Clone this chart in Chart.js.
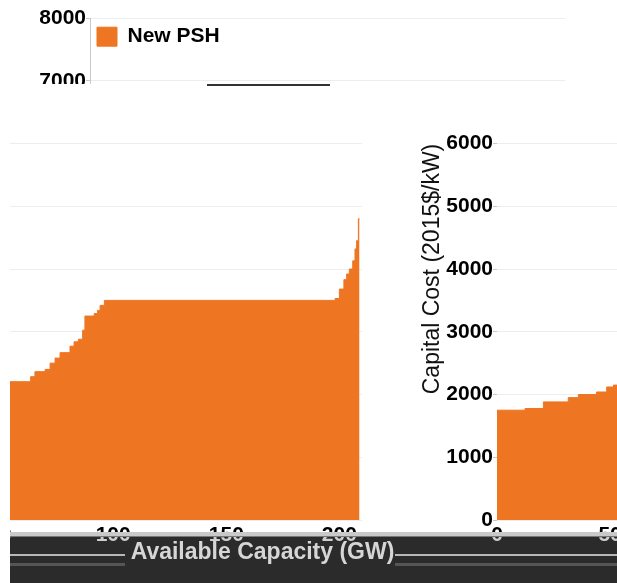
<!DOCTYPE html>
<html>
<head>
<meta charset="utf-8">
<script src="https://cdn.jsdelivr.net/npm/chart.js@4.4.0/dist/chart.umd.min.js"></script>
<style>
  body { margin: 0; width: 617px; height: 583px; overflow: hidden; position: relative; background: #fff; }
  .tile { position: absolute; overflow: hidden; }
  .tile canvas { position: absolute; }
  .band { position: absolute; left: 10px; top: 537px; width: 607px; height: 46px; background: #2b2b2b; }
  .bar { position: absolute; left: 10px; top: 532px; width: 607px; height: 5px; background: #c9c9c9; border-bottom: 1px solid #777; box-sizing: border-box; }
  .streak { position: absolute; }
</style>
</head>
<body>

<div class="band"></div>
<div class="streak" style="left:10px;top:554px;width:115px;height:2px;background:#b8b8b8"></div>
<div class="streak" style="left:395px;top:554px;width:222px;height:2px;background:#b8b8b8"></div>
<div class="streak" style="left:10px;top:563px;width:115px;height:3px;background:#555"></div>
<div class="streak" style="left:395px;top:563px;width:222px;height:3px;background:#555"></div>

<script>
// ---------- DATA ----------
const seriesName = 'New PSH';
const capacityGW = [0, 12.4, 20.5, 31.5, 36, 44, 48.5, 51.5, 54, 63.5, 65.4, 69.9, 72.1, 74.3, 76.5,
  80.9, 82.7, 84.6, 86.5, 87.5, 91.6, 93.1, 94.2, 96.1, 198.1, 200, 202, 203.2, 204.4, 205.9,
  206.9, 207.6, 208.4, 208.9];
const costPerKW = [1750, 1777, 1882, 1950, 2000, 2040, 2120, 2150, 2204, 2284, 2364, 2400, 2500, 2580, 2667,
  2770, 2840, 2880, 3025, 3250, 3290, 3340, 3420, 3500, 3530, 3680, 3830, 3920, 4000, 4130,
  4320, 4450, 4800, 4800];
const yTickValues = [0, 1000, 2000, 3000, 4000, 5000, 6000, 7000, 8000];
const xTickValues = [0, 50, 100, 150, 200];
const yTitle = 'Capital Cost (2015$/kW)';
const xTitle = 'Available Capacity (GW)';

const ORANGE = '#ee7623';
const FONT = '"Liberation Sans", Arial, sans-serif';
const W = 610, H = 583;

function buildChart(canvas, look) {
  return new Chart(canvas, {
    type: 'line',
    data: {
      datasets: [{
        label: seriesName,
        data: capacityGW.map((x, i) => ({ x: x, y: costPerKW[i] })),
        stepped: true,
        fill: 'origin',
        backgroundColor: ORANGE,
        borderColor: ORANGE,
        borderWidth: 1,
        pointRadius: 0
      }]
    },
    options: {
      responsive: false,
      animation: false,
      layout: { padding: { top: 18, right: 45, left: 0, bottom: 0 } },
      plugins: {
        legend: {
          display: look.legend,
          position: 'chartArea',
          align: 'start',
          // empty title only pushes the entry down into the plot
          title: { display: true, text: ' ', font: { size: 1 }, padding: { top: 0, bottom: 18 } },
          labels: {
            boxWidth: 20,
            boxHeight: 19,
            padding: 7,
            color: '#000',
            font: { family: FONT, size: 21, weight: 'bold' }
          }
        },
        tooltip: { enabled: false }
      },
      scales: {
        x: {
          type: 'linear',
          min: 0,
          max: 210,
          afterFit: s => { s.height = 63; },
          afterBuildTicks: s => { s.ticks = xTickValues.map(v => ({ value: v })); },
          grid: { display: false },
          border: { display: false },
          ticks: {
            color: look.tickColor,
            padding: -5,
            callback: v => String(v),
            font: { family: FONT, size: 21, weight: 'bold' }
          },
          title: {
            display: true,
            text: xTitle,
            color: look.xTitleColor,
            padding: { top: 0, bottom: 4 },
            font: { family: FONT, size: 23, weight: 'bold' }
          }
        },
        y: {
          min: 0,
          max: 8000,
          afterFit: s => { s.width = 90; },
          afterBuildTicks: s => { s.ticks = yTickValues.map(v => ({ value: v })); },
          grid: { color: '#ededed', tickLength: 4, tickColor: '#c8c8c8' },
          border: { display: look.yBorder, color: '#c8c8c8' },
          ticks: {
            color: look.tickColor,
            padding: 0,
            callback: v => String(v),
            font: { family: FONT, size: 21, weight: 'bold' }
          },
          title: {
            display: true,
            text: yTitle,
            color: look.yTitleColor,
            padding: { top: 12, bottom: 0 },
            font: { family: FONT, size: 23 }
          }
        }
      }
    }
  });
}

// one piece of the picture: a clipped window onto a full chart shifted by dx, dy
function addTile(ix, iy, w, h, dx, dy, look) {
  const div = document.createElement('div');
  div.className = 'tile';
  div.style.left = ix + 'px';
  div.style.top = iy + 'px';
  div.style.width = w + 'px';
  div.style.height = h + 'px';
  const cv = document.createElement('canvas');
  cv.width = W;
  cv.height = H;
  cv.style.left = (dx - ix) + 'px';
  cv.style.top = (dy - iy) + 'px';
  div.appendChild(cv);
  document.body.appendChild(div);
  buildChart(cv, look);
}

const clear = 'rgba(0,0,0,0)';
const dark = { legend: false, tickColor: '#000', xTitleColor: clear, yTitleColor: '#111', yBorder: false };
const light = { legend: false, tickColor: '#cfcfcf', xTitleColor: clear, yTitleColor: clear, yBorder: false };
const titleOnly = { legend: false, tickColor: clear, xTitleColor: '#d6d6d6', yTitleColor: clear, yBorder: false };

// bottom dark band
addTile(10, 537, 397, 46, -203, 0, light);
addTile(407, 537, 210, 46, 407, 0, light);
addTile(10, 537, 607, 46, -65, -13, titleOnly);

// top strip
addTile(0, 0, 617, 84, 0, 0, { legend: true, tickColor: '#000', xTitleColor: clear, yTitleColor: '#111', yBorder: true });

// swapped middle pieces
addTile(10, 100, 397, 432, -203, 0, dark);
addTile(407, 100, 210, 432, 407, 0, dark);
</script>

<div class="bar" style="z-index:5"></div>
<div class="streak" style="left:207px;top:84px;width:123px;height:2px;background:#333"></div>

</body>
</html>
